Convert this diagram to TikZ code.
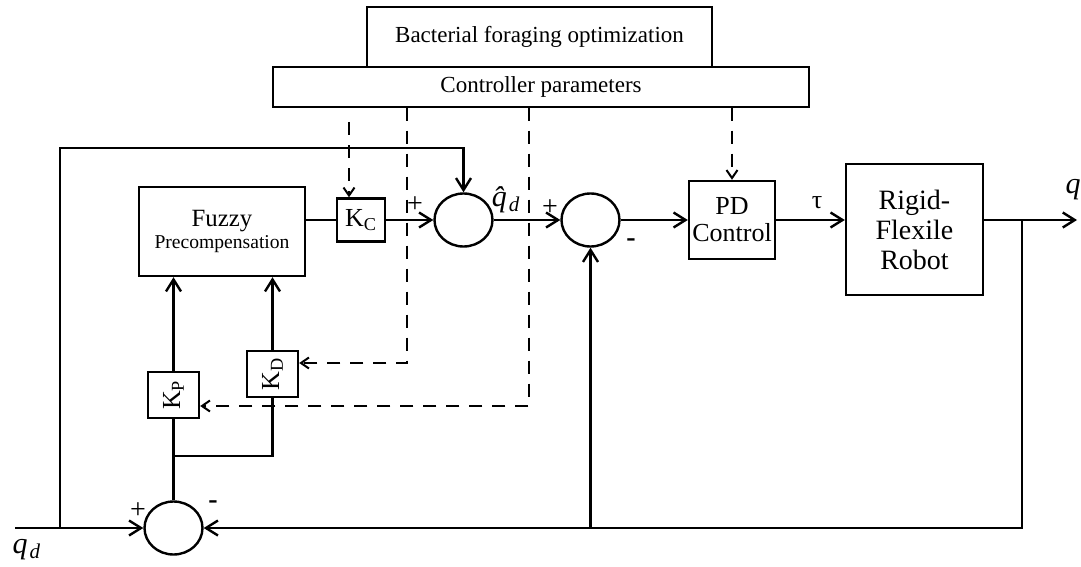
\documentclass[tikz,border=0pt]{standalone}
\usepackage{fontspec}
\setmainfont{Liberation Serif}
\usetikzlibrary{positioning, shapes.geometric, arrows.meta}

\tikzset{
  block/.style={draw, line width=1.2pt, inner sep=0pt, align=center},
  topbox/.style={draw, line width=0.7pt, inner sep=0pt, align=center, font=\fontsize{11.5}{13}\selectfont},
  gainbox/.style={block, minimum width=25.5pt, minimum height=23pt, font=\fontsize{13}{14}\selectfont},
  sumnode/.style={draw, ellipse, line width=1.2pt, minimum width=29pt, minimum height=26.5pt, inner sep=0pt},
  wire/.style={line width=1.2pt},
  sig/.style={wire, -{Straight Barb[length=6pt, width=7.5pt, line width=1.2pt]}},
  tune/.style={line width=1pt, dash pattern=on 6.5pt off 5pt, -{Straight Barb[length=4pt, width=5.5pt, line width=1pt]}},
  sign/.style={inner sep=0pt, font=\fontsize{14}{14}\selectfont},
  var/.style={inner sep=0pt, font=\fontsize{15}{15}\selectfont\itshape}
}

\begin{document}
\begin{tikzpicture}[x=0.5pt, y=-0.5pt]
    \useasboundingbox (0,0) rectangle (1081,567);

    % Optimizer
    \node[topbox, minimum width=172.5pt, minimum height=30pt] (bfo) at (539.5,37) {Bacterial foraging optimization};
    \node[topbox, minimum width=268pt, minimum height=20pt] (cpar) at (541,87) {Controller parameters};

    % Blocks
    \node[block, minimum width=83pt, minimum height=44.5pt] (fuzzy) at (222,231.5)
        {{\fontsize{12.4}{13}\selectfont Fuzzy}\\[-1pt]{\fontsize{9.8}{11}\selectfont Precompensation}};
    \node[gainbox, minimum width=24pt, minimum height=21.5pt] (kc) at (361,220) {K\textsubscript{C}};
    \node[sumnode] (s1) at (463.5,220) {};
    \node[sumnode] (s2) at (590.5,220) {};
    \node[block, minimum width=43pt, minimum height=39pt, font=\fontsize{13}{13.5}\selectfont] (pd) at (732,220) {PD\\Control};
    \node[block, minimum width=68.5pt, minimum height=65.5pt, font=\fontsize{14}{15}\selectfont] (robot) at (914.5,229.5) {Rigid-\\Flexile\\Robot};
    \node[gainbox] (kp) at (173.5,395) {\rotatebox{90}{K\textsubscript{P}}};
    \node[gainbox] (kd) at (272.5,374) {\rotatebox{90}{K\textsubscript{D}}};
    \node[sumnode] (s0) at (173.5,528) {};

    % Points
    \coordinate (qin) at (15,528);
    \coordinate (j0) at (60,528);
    \coordinate (ctop) at (60,148);
    \coordinate (jpd) at (173.5,456);
    \coordinate (jout) at (1022,220);
    \coordinate (out) at (1077,220);
    \coordinate (tkc) at (349,122);
    \coordinate (t1) at (407,363);
    \coordinate (t2) at (529,406);

    % Forward path
    \draw[wire] (fuzzy.east |- kc.west) -- (kc.west);
    \draw[sig] (kc) -- (s1);
    \draw[sig] (s1) -- (s2);
    \draw[sig] (s2) -- (pd);
    \draw[sig] (pd) -- (pd -| robot.west);
    \draw[sig] (pd -| robot.east) -- (out);

    % Feedback and reference
    \draw[sig] (qin) -- (s0.west);
    \draw[sig] (j0) -- (ctop) -| (s1.north);
    \draw[sig] (jout) |- (s0.east);
    \draw[sig] (s2 |- s0) -- (s2.south);
    \draw[wire] (s0.north) -- (kp.south);
    \draw[sig] (kp.north) -- (kp.north |- fuzzy.south);
    \draw[wire] (jpd) -| (kd.south);
    \draw[sig] (kd.north) -- (kd.north |- fuzzy.south);

    % Tuned parameters
    \draw[tune] (tkc) -- (tkc |- kc.north);
    \draw[tune] (t1 |- cpar.south) -- (t1) -- (t1 -| kd.east);
    \draw[tune] (t2 |- cpar.south) -- (t2) -- (t2 -| kp.east);
    \draw[tune] (pd.north |- cpar.south) -- (pd.north);

    % Signs and signals
    \node[sign] (p1) at (415,205) {+};
    \node[sign] (p2) at (550,208) {+};
    \node[sign] (m2) at (631,243) {\textbf{-}};
    \node[sign] (p0) at (138,511) {+};
    \node[sign] (m0) at (213,505) {\textbf{-}};
    \node[var] (qhat) at (506,200) {\^{q}\hspace{1pt}\textsubscript{d}};
    \node[sign, font=\fontsize{13}{13}\selectfont] (tau) at (817,203) {τ};
    \node[var] (qout) at (1073,190) {q};
    \node[var] (qd) at (27,550) {q\hspace{1pt}\textsubscript{d}};
\end{tikzpicture}
\end{document}
